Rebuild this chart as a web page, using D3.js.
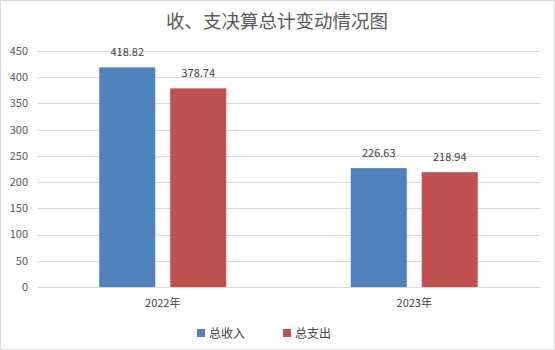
<!DOCTYPE html>
<html>
<head>
<meta charset="utf-8">
<script src="https://cdn.jsdelivr.net/npm/d3@7"></script>
<style>
  html, body { margin: 0; padding: 0; background: #fff; }
  svg { display: block; font-family: "Noto Sans CJK SC", "Noto Sans", sans-serif; }
</style>
</head>
<body>
<svg id="chart" width="555" height="350"></svg>
<script>
const categories = ["2022年", "2023年"];
const seriesNames = ["总收入", "总支出"];
const income = [418.82, 226.63];
const expense = [378.74, 218.94];
const yTicks = [0, 50, 100, 150, 200, 250, 300, 350, 400, 450];
const colors = ["#4f81bd", "#c0504d"];

const svg = d3.select("#chart");
const W = 555, H = 350;
const m = { left: 37, right: 15, top: 51, bottom: 63 };

// outer frame
svg.append("rect")
  .attr("x", 0.5).attr("y", 0.5)
  .attr("width", W - 1).attr("height", H - 1)
  .attr("fill", "#fff").attr("stroke", "#d9d9d9");

const x0 = d3.scaleBand().domain(categories)
  .range([m.left, W - m.right]).paddingInner(0).paddingOuter(0);
const x1 = d3.scaleBand().domain(seriesNames)
  .range([0, x0.bandwidth()]).paddingInner(0.211).paddingOuter(0.877);
const y = d3.scaleLinear().domain([0, 450]).range([H - m.bottom, m.top]);

// horizontal grid
svg.append("g").selectAll("line").data(yTicks).join("line")
  .attr("x1", m.left).attr("x2", W - m.right)
  .attr("y1", d => Math.round(y(d)) + 0.5).attr("y2", d => Math.round(y(d)) + 0.5)
  .attr("stroke", "#d9d9d9").attr("stroke-width", 1);

// y tick labels
svg.append("g").selectAll("text").data(yTicks).join("text")
  .attr("x", 28).attr("y", d => y(d))
  .attr("dy", "0.35em")
  .attr("text-anchor", "end")
  .attr("font-size", 11).attr("fill", "#595959")
  .text(d => d);

const rows = categories.map((c, i) => ({ cat: c, vals: [income[i], expense[i]] }));

const groups = svg.append("g").selectAll("g").data(rows).join("g")
  .attr("transform", d => `translate(${x0(d.cat)},0)`);

groups.selectAll("rect").data(d => d.vals.map((v, j) => ({ v, s: seriesNames[j], j })))
  .join("rect")
  .attr("x", d => x1(d.s))
  .attr("width", x1.bandwidth())
  .attr("y", d => y(d.v))
  .attr("height", d => y(0) - y(d.v))
  .attr("fill", d => colors[d.j]);

groups.selectAll("text.val").data(d => d.vals.map((v, j) => ({ v, s: seriesNames[j], j })))
  .join("text").attr("class", "val")
  .attr("x", d => x1(d.s) + x1.bandwidth() / 2)
  .attr("y", d => y(d.v) - 11)
  .attr("text-anchor", "middle")
  .attr("font-size", 11).attr("fill", "#404040")
  .text(d => d.v.toFixed(2));

// category labels
svg.append("g").selectAll("text").data(categories).join("text")
  .attr("x", d => x0(d) + x0.bandwidth() / 2)
  .attr("y", 307)
  .attr("text-anchor", "middle")
  .attr("font-size", 11).attr("fill", "#404040")
  .text(d => d);

// title
svg.append("text")
  .attr("x", 277).attr("y", 28)
  .attr("text-anchor", "middle")
  .attr("font-size", 18.5).attr("fill", "#595959")
  .text("收、支决算总计变动情况图");

// legend
const legendX = [197, 283];
const lg = svg.append("g").selectAll("g").data(seriesNames).join("g")
  .attr("transform", (d, i) => `translate(${legendX[i]},329)`);
lg.append("rect").attr("width", 8).attr("height", 8).attr("fill", (d, i) => colors[i]);
lg.append("text").attr("x", 12).attr("y", 4).attr("dy", "0.38em")
  .attr("font-size", 12).attr("fill", "#404040").text(d => d);
</script>
</body>
</html>
